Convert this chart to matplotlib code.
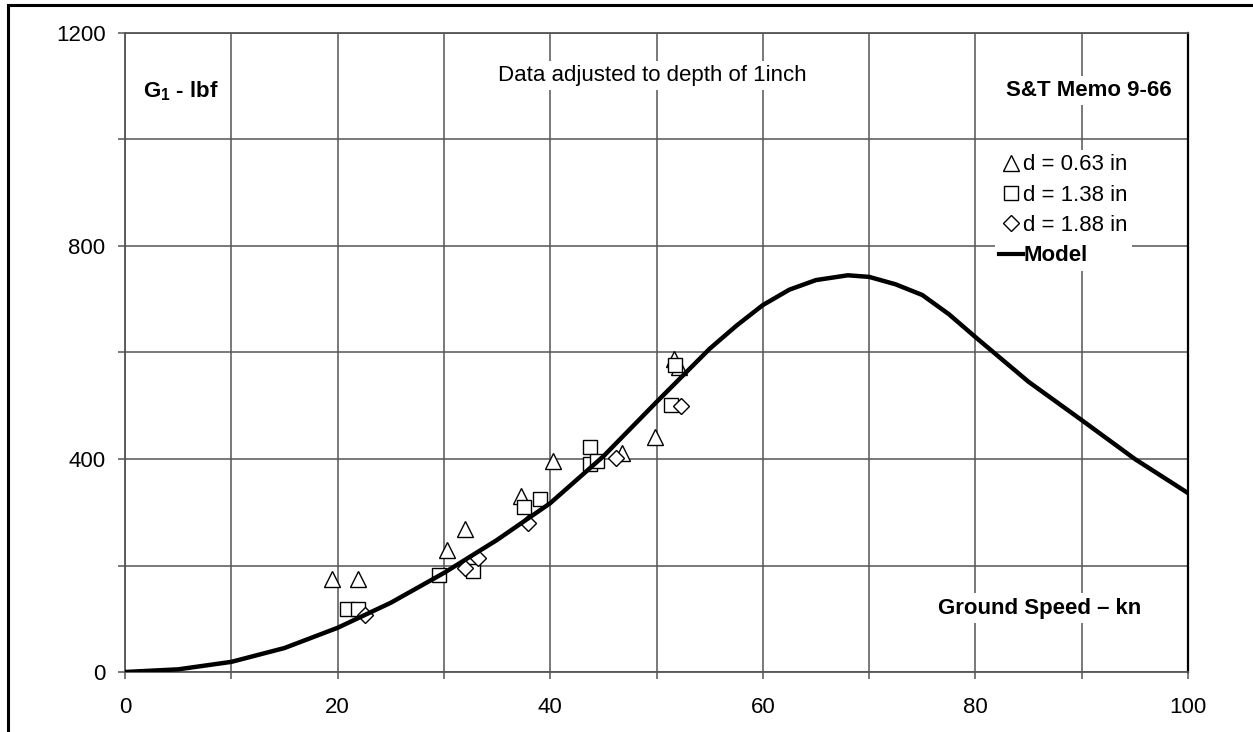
import numpy as np
import matplotlib.pyplot as plt
from matplotlib.lines import Line2D
from matplotlib.patches import Rectangle

plt.rcParams['font.family'] = ['Liberation Sans', 'DejaVu Sans']

# Modèle G1 (lbf) en fonction de la vitesse sol (kn)
model_speed = [0, 5, 10, 15, 20, 25, 30, 35, 40, 45, 50, 55, 57.5, 60, 62.5, 65, 68, 70, 72.5, 75, 77.5, 80, 85, 90, 95, 100]
model_g1 = [0, 5, 19, 45, 83, 130, 186, 248, 317, 405, 507, 607, 650, 689, 718, 736, 745, 742, 728, 708, 672, 629, 545, 473, 400, 336]

# Mesures S&T Memo 9-66
tri_speed = [19.5, 21.9, 30.3, 32.0, 37.3, 40.3, 46.8, 49.9, 51.6, 52.1]
tri_g1 = [175, 175, 229, 269, 330, 397, 412, 442, 588, 572]

sq_speed = [20.9, 21.9, 29.5, 32.7, 37.5, 39.0, 43.7, 43.7, 44.4, 51.7, 51.4]
sq_g1 = [118, 118, 183, 190, 309, 325, 422, 391, 397, 576, 501]

dia_speed = [22.6, 32.0, 33.2, 37.9, 46.2, 52.3]
dia_g1 = [107, 195, 214, 280, 402, 500]

W, H = 1253, 732
fig = plt.figure(figsize=(W / 100, H / 100), dpi=100)
ax = fig.add_axes([125 / W, 1 - 672 / H, (1188 - 125) / W, (672 - 33) / H])

# cadre extérieur
fig.patches.append(Rectangle((8 / W, -0.01), 1.1, 1 - 5 / H + 0.01, transform=fig.transFigure,
                             fill=False, edgecolor='black', linewidth=2.2))

grid_col = '#555555'
ax.set_xlim(0, 100)
ax.set_ylim(0, 1200)
ax.set_xticks(np.arange(0, 101, 10))
ax.set_xticklabels(['0', '', '20', '', '40', '', '60', '', '80', '', '100'])
ax.set_yticks(np.arange(0, 1201, 200))
ax.set_yticklabels(['0', '', '400', '', '800', '', '1200'])
ax.grid(True, color=grid_col, linewidth=1.1)
ax.tick_params(direction='out', length=5, width=1.1, color=grid_col, labelsize=16)
ax.tick_params(axis='x', pad=13)
ax.tick_params(axis='y', pad=9)
for s in ['left', 'bottom', 'top']:
    ax.spines[s].set_color(grid_col)
    ax.spines[s].set_linewidth(1.3)
ax.spines['right'].set_color('black')
ax.spines['right'].set_linewidth(1.6)

mk = dict(linestyle='none', markerfacecolor='white', markeredgecolor='black', markeredgewidth=1.0, zorder=4)
ax.plot(tri_speed, tri_g1, marker='^', markersize=12, **mk)
ax.plot(sq_speed, sq_g1, marker='s', markersize=10.5, **mk)
ax.plot(dia_speed, dia_g1, marker='D', markersize=8.5, **mk)
ax.plot(model_speed, model_g1, color='black', linewidth=3.2, zorder=5)

box = dict(facecolor='white', edgecolor='none', pad=3)
ax.text(5.3, 1090, 'G$_\\mathregular{1}$ - lbf', fontsize=16, fontweight='bold', ha='center', va='center', bbox=box)
ax.text(49.6, 1120, 'Data adjusted to depth of 1inch', fontsize=16, ha='center', va='center', bbox=box)
ax.text(98.5, 1092, 'S&T Memo 9-66', fontsize=16, fontweight='bold', ha='right', va='center', bbox=box)
ax.text(95.6, 120, 'Ground Speed \u2013 kn', fontsize=16, fontweight='bold', ha='right', va='center', bbox=box)

handles = [
    Line2D([], [], marker='^', markersize=12, **mk),
    Line2D([], [], marker='s', markersize=10.5, **mk),
    Line2D([], [], marker='D', markersize=8.5, **mk),
    Line2D([], [], color='black', linewidth=3),
]
labels = ['d = 0.63 in', 'd = 1.38 in', 'd = 1.88 in', 'Model']
leg = ax.legend(handles, labels, loc='upper left', bbox_to_anchor=(0.818, 0.817), frameon=True,
                fontsize=16, handlelength=1.1, handletextpad=0.0, labelspacing=0.42,
                borderpad=0.2, borderaxespad=0, fancybox=False)
leg.get_frame().set_edgecolor('none')
leg.get_frame().set_facecolor('white')
leg.get_frame().set_alpha(1)
leg.get_texts()[3].set_fontweight('bold')

fig.savefig('out.png', dpi=100)
